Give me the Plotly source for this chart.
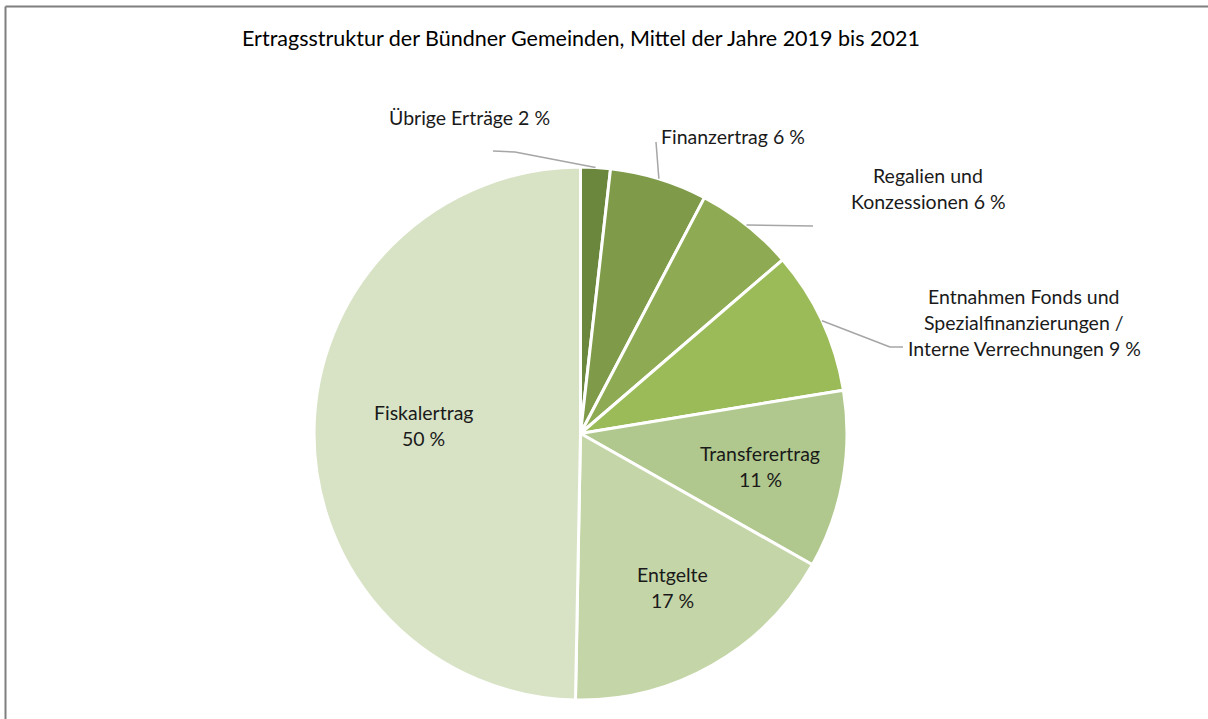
import math
import plotly.graph_objects as go

# ---- data ----
categories = [
    "Übrige Erträge",
    "Finanzertrag",
    "Regalien und Konzessionen",
    "Entnahmen Fonds und Spezialfinanzierungen / Interne Verrechnungen",
    "Transferertrag",
    "Entgelte",
    "Fiskalertrag",
]
values = [1.8, 5.9, 6.0, 8.7, 10.8, 17.1, 49.7]
label_lines = [
    ["Übrige Erträge"],
    ["Finanzertrag"],
    ["Regalien und", "Konzessionen"],
    ["Entnahmen Fonds und", "Spezialfinanzierungen /", "Interne Verrechnungen"],
    ["Transferertrag"],
    ["Entgelte"],
    ["Fiskalertrag"],
]
colors = ["#6b873d", "#7f9b4a", "#8eab53", "#9bbb59", "#b0c88d", "#c4d5a7", "#d8e3c6"]
title = "Ertragsstruktur der Bündner Gemeinden, Mittel der Jahre 2019 bis 2021"

# ---- layout constants (pixels) ----
W, H = 1208, 719
CX, CY, R = 580.5, 433.5, 266.5
FONT = "Lato"


def px(x):
    return x / W


def py(y):
    return 1 - y / H


total = sum(values)
pct = [round(v / total * 100) for v in values]

fig = go.Figure(
    go.Pie(
        labels=categories,
        values=values,
        sort=False,
        direction="clockwise",
        rotation=0,
        marker=dict(colors=colors, line=dict(color="white", width=3)),
        textinfo="none",
        hoverinfo="label+percent",
        showlegend=False,
        domain=dict(x=[px(CX - R), px(CX + R)], y=[py(CY + R), py(CY - R)]),
    )
)

# label placement: (center x, first-line y) in pixels
label_pos = [
    (469, 117),
    (733, 136),
    (928, 176),
    (1024, 296),
    (760, 453),
    (672, 574),
    (423, 412),
]
line_gap = 26

annotations = []
for i, lines in enumerate(label_lines):
    cx, y0 = label_pos[i]
    inside = i >= 4
    all_lines = list(lines)
    if inside:
        all_lines = all_lines + [f"{pct[i]} %"]
    else:
        all_lines[-1] = all_lines[-1] + f" {pct[i]} %"
    for j, t in enumerate(all_lines):
        annotations.append(
            dict(
                x=px(cx), y=py(y0 + j * line_gap), xref="paper", yref="paper",
                text=t, showarrow=False, xanchor="center", yanchor="middle",
                font=dict(family=FONT, size=19.5, color="#1a1a1a"),
            )
        )

annotations.append(
    dict(
        x=px(580.5), y=py(38), xref="paper", yref="paper", text=title,
        showarrow=False, xanchor="center", yanchor="middle",
        font=dict(family=FONT, size=21.5, color="#000000"),
    )
)

# leader lines from slice mid-angle on the rim
leader_targets = {
    0: [(515, 152), (493, 151)],
    1: [(656, 142)],
    2: [(813, 226)],
    3: [(890, 347), (903, 347)],
}
shapes = []
cum = 0.0
for i, v in enumerate(values):
    mid = cum + v / 2
    cum += v
    if i not in leader_targets:
        continue
    th = 2 * math.pi * mid / total
    pts = [(CX + R * math.sin(th), CY - R * math.cos(th))] + leader_targets[i]
    for (x0, y0), (x1, y1) in zip(pts[:-1], pts[1:]):
        shapes.append(
            dict(type="line", xref="paper", yref="paper",
                 x0=px(x0), y0=py(y0), x1=px(x1), y1=py(y1),
                 line=dict(color="#a6a6a6", width=1.5))
        )

# chart border (only left and top edges are visible in the crop)
shapes.append(
    dict(type="line", xref="paper", yref="paper",
         x0=px(5.5), y0=py(6.5), x1=px(5.5), y1=0,
         line=dict(color="#7f7f7f", width=2))
)
shapes.append(
    dict(type="line", xref="paper", yref="paper",
         x0=px(5.5), y0=py(6.5), x1=1, y1=py(6.5),
         line=dict(color="#7f7f7f", width=2))
)

fig.update_layout(
    width=W, height=H,
    margin=dict(l=0, r=0, t=0, b=0),
    paper_bgcolor="white", plot_bgcolor="white",
    annotations=annotations, shapes=shapes,
    font=dict(family=FONT),
)

fig.write_html(
    "out.html",
    config={"displayModeBar": False},
    post_script="document.body.style.margin='0';document.body.style.overflow='hidden';",
)
